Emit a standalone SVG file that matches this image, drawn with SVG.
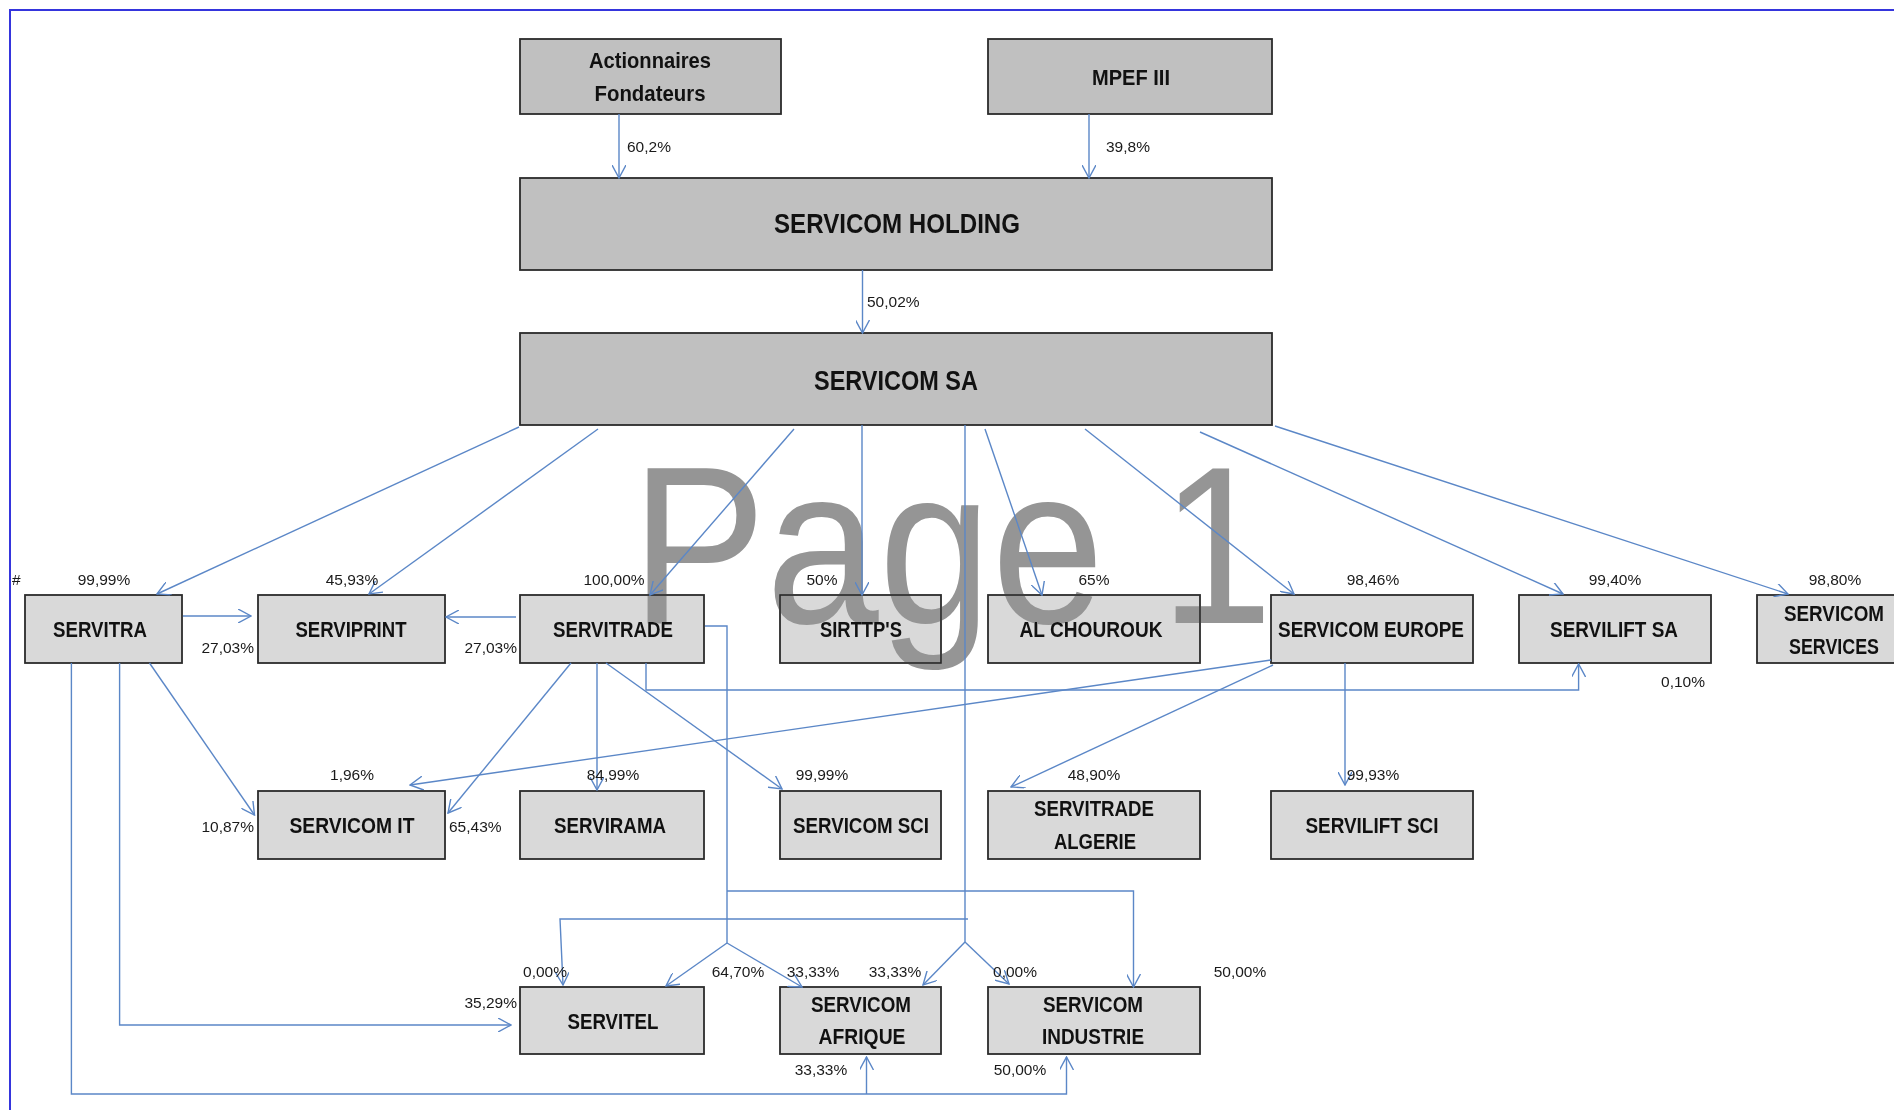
<svg xmlns="http://www.w3.org/2000/svg" width="1894" height="1110" viewBox="0 0 1894 1110">
<style>
.box{stroke:#2b2b2b;stroke-width:1.8}
.dark{fill:#c0c0c0}
.light{fill:#d9d9d9}
.lbl{font-family:"Liberation Sans",Arial,sans-serif;font-weight:bold;font-size:22px;fill:#111;text-anchor:middle}
.big{font-size:28px}
.pct{font-family:"Liberation Sans",Arial,sans-serif;font-size:15.5px;fill:#1a1a1a}
.c{stroke:#5b87c7;stroke-width:1.4;fill:none}
.a{marker-end:url(#arr)}
.wm{font-family:"Liberation Sans",Arial,sans-serif;font-size:225px;fill:#959595;mix-blend-mode:darken}
</style>
<defs>
<marker id="arr" viewBox="0 0 14 14" refX="13" refY="7" markerWidth="14" markerHeight="14" markerUnits="userSpaceOnUse" orient="auto">
<path d="M0,0 L13,7 L0,14" fill="none" stroke="#5b87c7" stroke-width="1.4"/>
</marker>
</defs>
<rect x="0" y="0" width="1894" height="1110" fill="#fff"/>
<path d="M10,1110 L10,10 L1894,10" fill="none" stroke="#3535dd" stroke-width="2"/>

<g id="actionnaires">
<rect class="box dark" x="520" y="39" width="261" height="75"/>
<text class="lbl" x="650" y="68" textLength="122" lengthAdjust="spacingAndGlyphs">Actionnaires</text>
<text class="lbl" x="650" y="101" textLength="111" lengthAdjust="spacingAndGlyphs">Fondateurs</text>
</g>
<g id="mpef">
<rect class="box dark" x="988" y="39" width="284" height="75"/>
<text class="lbl" x="1131" y="85" textLength="78" lengthAdjust="spacingAndGlyphs">MPEF III</text>
</g>
<g id="holding">
<rect class="box dark" x="520" y="178" width="752" height="92"/>
<text class="lbl big" x="897" y="233" textLength="246" lengthAdjust="spacingAndGlyphs">SERVICOM HOLDING</text>
</g>
<g id="servicom-sa">
<rect class="box dark" x="520" y="333" width="752" height="92"/>
<text class="lbl big" x="896" y="390" textLength="164" lengthAdjust="spacingAndGlyphs">SERVICOM SA</text>
</g>

<g id="servitra">
<rect class="box light" x="25" y="595" width="157" height="68"/>
<text class="lbl" x="100" y="637" textLength="94" lengthAdjust="spacingAndGlyphs">SERVITRA</text>
</g>
<g id="serviprint">
<rect class="box light" x="258" y="595" width="187" height="68"/>
<text class="lbl" x="351" y="637" textLength="111" lengthAdjust="spacingAndGlyphs">SERVIPRINT</text>
</g>
<g id="servitrade">
<rect class="box light" x="520" y="595" width="184" height="68"/>
<text class="lbl" x="613" y="637" textLength="120" lengthAdjust="spacingAndGlyphs">SERVITRADE</text>
</g>
<g id="sirttps">
<rect class="box light" x="780" y="595" width="161" height="68"/>
<text class="lbl" x="861" y="637" textLength="82" lengthAdjust="spacingAndGlyphs">SIRTTP'S</text>
</g>
<g id="alchourouk">
<rect class="box light" x="988" y="595" width="212" height="68"/>
<text class="lbl" x="1091" y="637" textLength="143" lengthAdjust="spacingAndGlyphs">AL CHOUROUK</text>
</g>
<g id="europe">
<rect class="box light" x="1271" y="595" width="202" height="68"/>
<text class="lbl" x="1371" y="637" textLength="186" lengthAdjust="spacingAndGlyphs">SERVICOM EUROPE</text>
</g>
<g id="servilift-sa">
<rect class="box light" x="1519" y="595" width="192" height="68"/>
<text class="lbl" x="1614" y="637" textLength="128" lengthAdjust="spacingAndGlyphs">SERVILIFT SA</text>
</g>
<g id="services">
<rect class="box light" x="1757" y="595" width="160" height="68"/>
<text class="lbl" x="1834" y="621" textLength="100" lengthAdjust="spacingAndGlyphs">SERVICOM</text>
<text class="lbl" x="1834" y="654" textLength="90" lengthAdjust="spacingAndGlyphs">SERVICES</text>
</g>

<g id="servicom-it">
<rect class="box light" x="258" y="791" width="187" height="68"/>
<text class="lbl" x="352" y="833" textLength="125" lengthAdjust="spacingAndGlyphs">SERVICOM IT</text>
</g>
<g id="servirama">
<rect class="box light" x="520" y="791" width="184" height="68"/>
<text class="lbl" x="610" y="833" textLength="112" lengthAdjust="spacingAndGlyphs">SERVIRAMA</text>
</g>
<g id="servicom-sci">
<rect class="box light" x="780" y="791" width="161" height="68"/>
<text class="lbl" x="861" y="833" textLength="136" lengthAdjust="spacingAndGlyphs">SERVICOM SCI</text>
</g>
<g id="servitrade-algerie">
<rect class="box light" x="988" y="791" width="212" height="68"/>
<text class="lbl" x="1094" y="816" textLength="120" lengthAdjust="spacingAndGlyphs">SERVITRADE</text>
<text class="lbl" x="1095" y="849" textLength="82" lengthAdjust="spacingAndGlyphs">ALGERIE</text>
</g>
<g id="servilift-sci">
<rect class="box light" x="1271" y="791" width="202" height="68"/>
<text class="lbl" x="1372" y="833" textLength="133" lengthAdjust="spacingAndGlyphs">SERVILIFT SCI</text>
</g>

<g id="servitel">
<rect class="box light" x="520" y="987" width="184" height="67"/>
<text class="lbl" x="613" y="1029" textLength="91" lengthAdjust="spacingAndGlyphs">SERVITEL</text>
</g>
<g id="afrique">
<rect class="box light" x="780" y="987" width="161" height="67"/>
<text class="lbl" x="861" y="1012" textLength="100" lengthAdjust="spacingAndGlyphs">SERVICOM</text>
<text class="lbl" x="862" y="1044" textLength="87" lengthAdjust="spacingAndGlyphs">AFRIQUE</text>
</g>
<g id="industrie">
<rect class="box light" x="988" y="987" width="212" height="67"/>
<text class="lbl" x="1093" y="1012" textLength="100" lengthAdjust="spacingAndGlyphs">SERVICOM</text>
<text class="lbl" x="1093" y="1044" textLength="102" lengthAdjust="spacingAndGlyphs">INDUSTRIE</text>
</g>

<text class="wm" x="631" y="623" textLength="642" lengthAdjust="spacingAndGlyphs">Page 1</text>

<g id="connectors">
<path class="c a" d="M619,114 L619,178"/>
<path class="c a" d="M1089,114 L1089,178"/>
<path class="c a" d="M862.5,270 L862.5,333"/>
<path class="c a" d="M519,427 L157,594"/>
<path class="c a" d="M598,429 L369,594"/>
<path class="c a" d="M794,429 L650,595"/>
<path class="c a" d="M862,425 L862,595"/>
<path class="c a" d="M985,429 L1042,595"/>
<path class="c a" d="M1085,429 L1294,594"/>
<path class="c a" d="M1200,432 L1563,594"/>
<path class="c a" d="M1275,426 L1788,594"/>
<path class="c" d="M965,425 L965,942"/>
<path class="c a" d="M965,942 L923,985"/>
<path class="c a" d="M965,942 L1009,984"/>
<path class="c a" d="M968,919 L560,919 L563,985"/>
<path class="c" d="M705,626 L727,626 L727,943"/>
<path class="c a" d="M727,943 L666,986"/>
<path class="c a" d="M727,943 L802,987"/>
<path class="c a" d="M727,891 L1133.5,891 L1133.5,987"/>
<path class="c a" d="M183,616 L251,616"/>
<path class="c a" d="M516,617 L446,617"/>
<path class="c a" d="M149.5,663 L254.5,815"/>
<path class="c a" d="M119.6,663 L119.6,1025 L511,1025"/>
<path class="c a" d="M71.4,663 L71.4,1094 L1066.5,1094 L1066.5,1057"/>
<path class="c a" d="M866.5,1094 L866.5,1057"/>
<path class="c a" d="M571,663 L448,813"/>
<path class="c a" d="M597,663 L597,790"/>
<path class="c a" d="M606,663 L782,789"/>
<path class="c a" d="M646,663 L646,690 L1578.6,690 L1578.6,664"/>
<path class="c a" d="M1271,660 L410,785"/>
<path class="c a" d="M1273,665 L1011,787"/>
<path class="c a" d="M1345,663 L1345,785"/>
</g>

<g id="labels">
<text class="pct" x="12" y="585">#</text>
<text class="pct" x="627" y="152">60,2%</text>
<text class="pct" x="1106" y="152">39,8%</text>
<text class="pct" x="867" y="307">50,02%</text>
<text class="pct" x="104" y="585" text-anchor="middle">99,99%</text>
<text class="pct" x="352" y="585" text-anchor="middle">45,93%</text>
<text class="pct" x="614" y="585" text-anchor="middle">100,00%</text>
<text class="pct" x="822" y="585" text-anchor="middle">50%</text>
<text class="pct" x="1094" y="585" text-anchor="middle">65%</text>
<text class="pct" x="1373" y="585" text-anchor="middle">98,46%</text>
<text class="pct" x="1615" y="585" text-anchor="middle">99,40%</text>
<text class="pct" x="1835" y="585" text-anchor="middle">98,80%</text>
<text class="pct" x="254" y="653" text-anchor="end">27,03%</text>
<text class="pct" x="517" y="653" text-anchor="end">27,03%</text>
<text class="pct" x="1683" y="687" text-anchor="middle">0,10%</text>
<text class="pct" x="352" y="780" text-anchor="middle">1,96%</text>
<text class="pct" x="613" y="780" text-anchor="middle">84,99%</text>
<text class="pct" x="822" y="780" text-anchor="middle">99,99%</text>
<text class="pct" x="1094" y="780" text-anchor="middle">48,90%</text>
<text class="pct" x="1373" y="780" text-anchor="middle">99,93%</text>
<text class="pct" x="254" y="832" text-anchor="end">10,87%</text>
<text class="pct" x="449" y="832">65,43%</text>
<text class="pct" x="545" y="977" text-anchor="middle">0,00%</text>
<text class="pct" x="738" y="977" text-anchor="middle">64,70%</text>
<text class="pct" x="813" y="977" text-anchor="middle">33,33%</text>
<text class="pct" x="895" y="977" text-anchor="middle">33,33%</text>
<text class="pct" x="1015" y="977" text-anchor="middle">0,00%</text>
<text class="pct" x="1240" y="977" text-anchor="middle">50,00%</text>
<text class="pct" x="517" y="1008" text-anchor="end">35,29%</text>
<text class="pct" x="821" y="1075" text-anchor="middle">33,33%</text>
<text class="pct" x="1020" y="1075" text-anchor="middle">50,00%</text>
</g>
</svg>
